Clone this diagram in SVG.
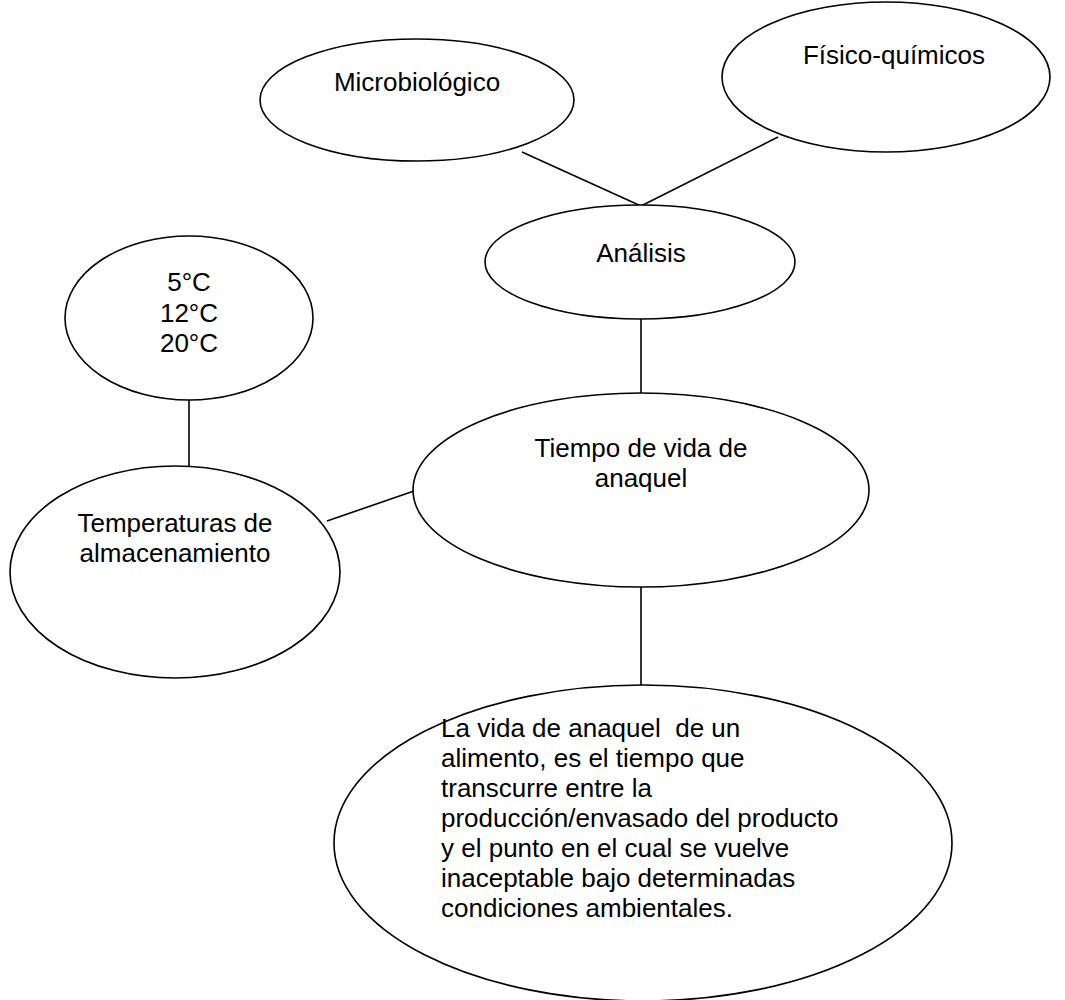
<svg xmlns="http://www.w3.org/2000/svg" width="1065" height="1000" viewBox="0 0 1065 1000">
<style>
.n{fill:#fff;stroke:#000;stroke-width:1.6}
.c line{stroke:#000;stroke-width:1.6}
text{font-family:"Liberation Sans",Arial,sans-serif;font-size:26px;fill:#000}
.m{text-anchor:middle}
</style>
<rect width="1065" height="1000" fill="#fff"/>
<g id="connectors" class="c">
<line x1="522" y1="152" x2="641" y2="206"/>
<line x1="778" y1="137" x2="641" y2="206"/>
<line x1="641" y1="318" x2="641" y2="394"/>
<line x1="189" y1="400" x2="189" y2="466"/>
<line x1="327" y1="521" x2="414" y2="491"/>
<line x1="641" y1="587" x2="641" y2="685"/>
</g>
<g id="microbiologico"><ellipse class="n" cx="417" cy="100" rx="157" ry="61"/><text class="m" x="417" y="91">Microbiológico</text></g>
<g id="fisicoquimicos"><ellipse class="n" cx="886" cy="77" rx="164" ry="75"/><text class="m" x="894" y="64">Físico-químicos</text></g>
<g id="analisis"><ellipse class="n" cx="640" cy="262" rx="155" ry="57"/><text class="m" x="641" y="262">Análisis</text></g>
<g id="temps"><ellipse class="n" cx="189" cy="318" rx="124" ry="82"/><text class="m" x="189" y="291">5°C</text><text class="m" x="189" y="322">12°C</text><text class="m" x="189" y="352">20°C</text></g>
<g id="tiempo"><ellipse class="n" cx="641" cy="490" rx="228" ry="97"/><text class="m" x="641" y="457">Tiempo de vida de</text><text class="m" x="641" y="487">anaquel</text></g>
<g id="temperaturas"><ellipse class="n" cx="175" cy="572" rx="165" ry="106"/><text class="m" x="175" y="532">Temperaturas de</text><text class="m" x="175" y="562">almacenamiento</text></g>
<g id="definicion"><ellipse class="n" cx="643" cy="843" rx="309" ry="158"/>
<text x="441"><tspan x="441" y="737">La vida de anaquel&#160; de un</tspan><tspan x="441" y="767">alimento, es el tiempo que</tspan><tspan x="441" y="797">transcurre entre la</tspan><tspan x="441" y="827">producción/envasado del producto</tspan><tspan x="441" y="857">y el punto en el cual se vuelve</tspan><tspan x="441" y="887">inaceptable bajo determinadas</tspan><tspan x="441" y="917">condiciones ambientales.</tspan></text></g>
</svg>
